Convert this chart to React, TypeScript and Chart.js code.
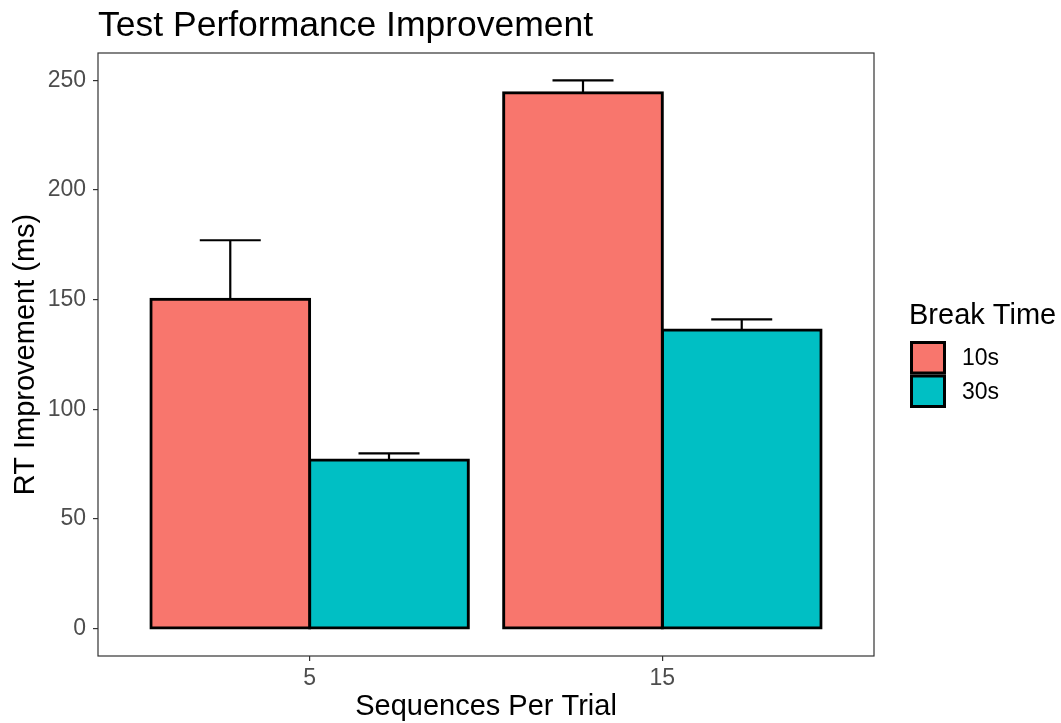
import React, { useEffect, useRef } from "react";
import { Chart, registerables } from "chart.js";

Chart.register(...registerables);

// Data
const categories = ["5", "15"];
const seriesNames = ["10s", "30s"];
const means10s = [150.2, 244.4];
const means30s = [76.9, 136.2];
const upper10s = [177.1, 250.0];
const upper30s = [79.9, 141.0];
const yTicks = [0, 50, 100, 150, 200, 250];

const COLORS = ["#F8766D", "#00BFC4"];
const FONT = "'Liberation Sans', Arial, sans-serif";

const W = 1061;
const H = 723;
const AREA = { left: 98, right: 874, top: 53, bottom: 656 };

const uppers = [upper10s, upper30s];

const decorPlugin = {
  id: "decor",
  afterDatasetsDraw(chart: any) {
    const ctx = chart.ctx;
    const y = chart.scales.y;
    // error bars (upper whisker + cap)
    ctx.save();
    ctx.strokeStyle = "#000";
    ctx.lineWidth = 2.2;
    ctx.lineCap = "butt";
    chart.data.datasets.forEach((ds: any, di: number) => {
      const meta = chart.getDatasetMeta(di);
      meta.data.forEach((bar: any, i: number) => {
        const top = y.getPixelForValue(uppers[di][i]);
        const base = y.getPixelForValue(ds.data[i].y);
        const cx = bar.x;
        ctx.beginPath();
        ctx.moveTo(cx, base);
        ctx.lineTo(cx, top);
        ctx.moveTo(cx - 30.5, top);
        ctx.lineTo(cx + 30.5, top);
        ctx.stroke();
      });
    });
    ctx.restore();
  },
  afterDraw(chart: any) {
    const ctx = chart.ctx;
    const a = chart.chartArea;
    ctx.save();
    // panel border
    ctx.strokeStyle = "#333333";
    ctx.lineWidth = 1.2;
    ctx.strokeRect(a.left, a.top, a.right - a.left, a.bottom - a.top);

    // title
    ctx.fillStyle = "#000";
    ctx.font = `35.5px ${FONT}`;
    ctx.textAlign = "left";
    ctx.textBaseline = "alphabetic";
    ctx.fillText("Test Performance Improvement", 98, 36);

    // axis titles
    ctx.font = `29px ${FONT}`;
    ctx.textAlign = "center";
    ctx.fillText("Sequences Per Trial", (a.left + a.right) / 2, 715);
    ctx.save();
    ctx.translate(34, (a.top + a.bottom) / 2);
    ctx.rotate(-Math.PI / 2);
    ctx.fillText("RT Improvement (ms)", 0, 0);
    ctx.restore();

    // legend
    ctx.textAlign = "left";
    ctx.font = `29px ${FONT}`;
    ctx.fillText("Break Time", 909, 324);
    ctx.font = `23px ${FONT}`;
    ctx.textBaseline = "middle";
    seriesNames.forEach((name, i) => {
      const top = 342 + i * 33.5;
      ctx.fillStyle = COLORS[i];
      ctx.fillRect(911, top, 34, 31.5);
      ctx.strokeStyle = "#000";
      ctx.lineWidth = 3;
      ctx.strokeRect(911.5, top + 0.5, 33, 30.5);
      ctx.fillStyle = "#000";
      ctx.fillText(name, 962, top + 17);
    });
    ctx.restore();
  },
};

export default function App() {
  const ref = useRef<HTMLCanvasElement>(null);

  useEffect(() => {
    if (!ref.current) return;
    const mk = (vals: number[]) => vals.map((v, i) => ({ x: i + 1, y: v }));
    const chart = new Chart(ref.current, {
      type: "bar",
      data: {
        datasets: [
          {
            label: seriesNames[0],
            data: mk(means10s),
            backgroundColor: COLORS[0],
            borderColor: "#000",
            borderWidth: 3,
            borderSkipped: false,
            inflateAmount: 1.5,
          } as any,
          {
            label: seriesNames[1],
            data: mk(means30s),
            backgroundColor: COLORS[1],
            borderColor: "#000",
            borderWidth: 3,
            borderSkipped: false,
            inflateAmount: 1.5,
          } as any,
        ],
      },
      options: {
        responsive: false,
        animation: false,
        devicePixelRatio: 1,
        layout: { padding: { left: 0, top: AREA.top, right: W - AREA.right, bottom: 0 } },
        datasets: { bar: { categoryPercentage: 0.9, barPercentage: 1.0 } },
        plugins: { legend: { display: false }, title: { display: false }, tooltip: { enabled: false } },
        scales: {
          x: {
            type: "linear",
            offset: false,
            min: 0.4,
            max: 2.6,
            afterBuildTicks: (s: any) => {
              s.ticks = categories.map((_, i) => ({ value: i + 1 }));
            },
            afterFit: (s: any) => {
              s.height = H - AREA.bottom;
            },
            grid: {
              display: true,
              offset: false,
              drawOnChartArea: false,
              drawTicks: true,
              tickLength: 5,
              color: "#333333",
              lineWidth: 1.2,
            },
            border: { display: false },
            ticks: {
              autoSkip: false,
              maxRotation: 0,
              padding: 4,
              color: "#4D4D4D",
              font: { family: FONT, size: 23 },
              callback: (v: any) => categories[Math.round(Number(v)) - 1] ?? "",
            },
          },
          y: {
            min: -12.5,
            max: 262.5,
            afterBuildTicks: (s: any) => {
              s.ticks = yTicks.map((v) => ({ value: v }));
            },
            afterFit: (s: any) => {
              s.width = AREA.left;
            },
            grid: {
              display: true,
              drawOnChartArea: false,
              drawTicks: true,
              tickLength: 5,
              color: "#333333",
              lineWidth: 1.2,
            },
            border: { display: false },
            ticks: {
              padding: 7,
              color: "#4D4D4D",
              font: { family: FONT, size: 23 },
            },
          },
        },
      },
      plugins: [decorPlugin],
    } as any);
    return () => chart.destroy();
  }, []);

  return (
    <div style={{ position: "absolute", left: 0, top: 0, width: W, height: H, background: "#fff" }}>
      <canvas ref={ref} width={W} height={H} style={{ display: "block" }} />
    </div>
  );
}
